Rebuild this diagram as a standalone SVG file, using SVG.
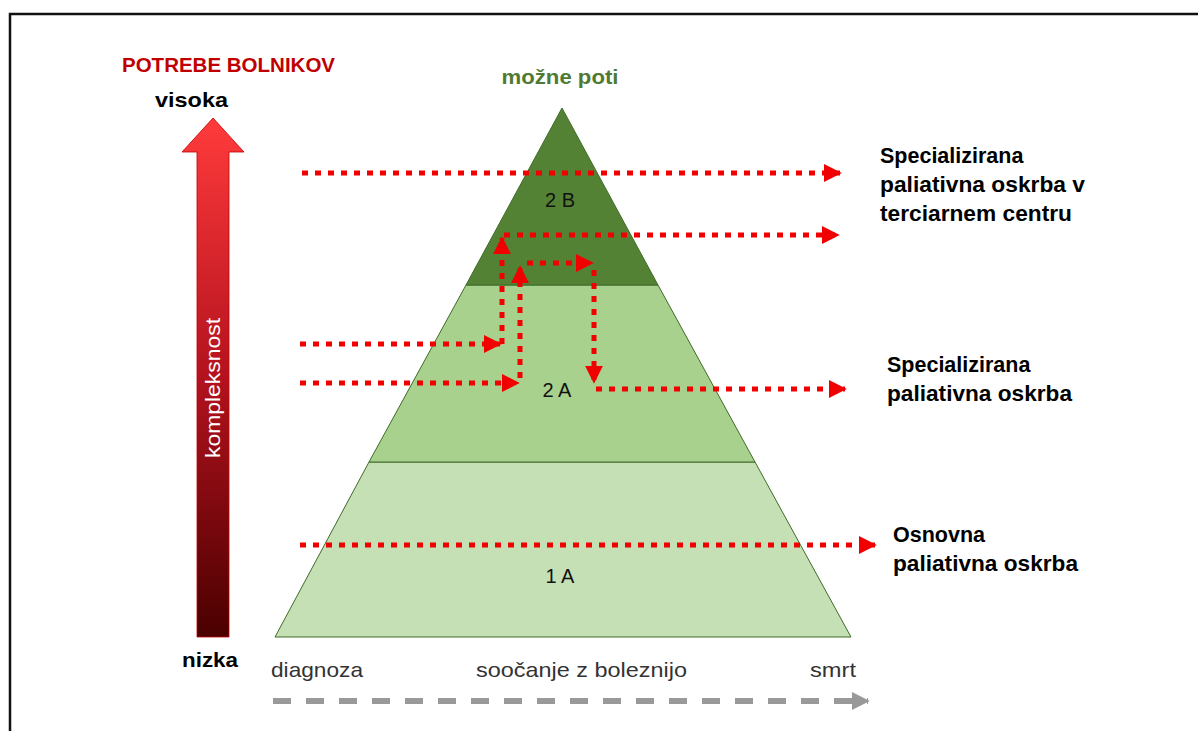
<svg xmlns="http://www.w3.org/2000/svg" width="1198" height="731" viewBox="0 0 1198 731">
<defs>
<style>
.t{font-family:"Liberation Sans",Arial,sans-serif;}
.b{font-weight:bold;}
.lbl{font-family:"Liberation Sans",Arial,sans-serif;font-weight:bold;font-size:21.5px;fill:#000;}
.lvl{font-family:"Liberation Sans",Arial,sans-serif;font-size:20px;fill:#111;}
.ax{font-family:"Liberation Sans",Arial,sans-serif;font-size:21px;fill:#333;}
.dot{fill:none;stroke:#F00000;stroke-width:5;stroke-dasharray:6 7;}
.edge{stroke:#3F6B27;stroke-width:1;}
</style>
<linearGradient id="grad" x1="0" y1="0" x2="0" y2="1">
<stop offset="0" stop-color="#FF3B3B"/>
<stop offset="0.5" stop-color="#B3121E"/>
<stop offset="1" stop-color="#4A0000"/>
</linearGradient>
<marker id="ah" viewBox="0 0 10 10" refX="9" refY="5" markerWidth="3.6" markerHeight="3.6" orient="auto" markerUnits="strokeWidth">
<path d="M0,0 L10,5 L0,10 z" fill="#F00000"/>
</marker>
<marker id="gh" viewBox="0 0 10 10" refX="9" refY="5" markerWidth="3" markerHeight="3.2" orient="auto" markerUnits="strokeWidth">
<path d="M0,0 L10,5 L0,10 z" fill="#999"/>
</marker>
</defs>
<rect width="1198" height="731" fill="#fff"/>
<path d="M10,731 V14 H1198" fill="none" stroke="#111" stroke-width="2.5"/>

<g id="pyramid">
<g id="level-1A">
<polygon points="369,462 755,462 851,637 275,637" fill="#C5E0B4" class="edge"/>
<text class="lvl" x="560" y="583" text-anchor="middle">1 A</text>
</g>
<g id="level-2A">
<polygon points="466,285 658,285 755,462 369,462" fill="#A9D18E" class="edge"/>
<text class="lvl" x="557" y="397" text-anchor="middle">2 A</text>
</g>
<g id="level-2B">
<polygon points="562,108 658,285 466,285" fill="#548235" class="edge"/>
<text class="lvl" x="560" y="207" text-anchor="middle">2 B</text>
</g>
</g>

<g id="axis-needs">
<text class="t b" x="122" y="72" font-size="20" fill="#C00000" textLength="213" lengthAdjust="spacingAndGlyphs">POTREBE BOLNIKOV</text>
<text class="t b" x="155" y="107" font-size="21" fill="#000" textLength="73" lengthAdjust="spacingAndGlyphs">visoka</text>
<text class="t b" x="182" y="667" font-size="21" fill="#000" textLength="56" lengthAdjust="spacingAndGlyphs">nizka</text>
<path d="M213,118 L244,152 L229,152 L229,637 L197,637 L197,152 L182,152 Z" fill="url(#grad)" stroke="#C00000" stroke-width="0.8"/>
<text class="t" x="220" y="388" font-size="21" fill="#fff" text-anchor="middle" transform="rotate(-90 220 388)" textLength="140" lengthAdjust="spacingAndGlyphs">kompleksnost</text>
</g>

<g id="title">
<text class="t b" x="560" y="84" font-size="21" fill="#4F7A33" text-anchor="middle" textLength="117" lengthAdjust="spacingAndGlyphs">možne poti</text>
</g>

<g id="label-tertiary">
<text class="lbl" x="880" y="163">Specializirana</text>
<text class="lbl" x="880" y="192" textLength="205" lengthAdjust="spacingAndGlyphs">paliativna oskrba v</text>
<text class="lbl" x="880" y="221" textLength="192" lengthAdjust="spacingAndGlyphs">terciarnem centru</text>
</g>
<g id="label-specialized">
<text class="lbl" x="887" y="372">Specializirana</text>
<text class="lbl" x="887" y="401" textLength="185" lengthAdjust="spacingAndGlyphs">paliativna oskrba</text>
</g>
<g id="label-basic">
<text class="lbl" x="893" y="542">Osnovna</text>
<text class="lbl" x="893" y="571" textLength="185" lengthAdjust="spacingAndGlyphs">paliativna oskrba</text>
</g>

<g id="timeline">
<text class="ax" x="271" y="677" textLength="92" lengthAdjust="spacingAndGlyphs">diagnoza</text>
<text class="ax" x="476" y="677" textLength="211" lengthAdjust="spacingAndGlyphs">soočanje z boleznijo</text>
<text class="ax" x="810" y="677" textLength="46" lengthAdjust="spacingAndGlyphs">smrt</text>
</g>

<g id="connectors">
<line class="dot" x1="302" y1="173" x2="840" y2="173" marker-end="url(#ah)"/>
<line class="dot" x1="300" y1="344" x2="500" y2="344" marker-end="url(#ah)"/>
<line class="dot" x1="502" y1="344" x2="502" y2="238" marker-end="url(#ah)"/>
<line class="dot" x1="504" y1="235" x2="838" y2="235" marker-end="url(#ah)"/>
<line class="dot" x1="300" y1="383" x2="518" y2="383" marker-end="url(#ah)"/>
<line class="dot" x1="520" y1="378" x2="520" y2="267" marker-end="url(#ah)"/>
<line class="dot" x1="527" y1="263" x2="592" y2="263" marker-end="url(#ah)"/>
<line class="dot" x1="594" y1="270" x2="594" y2="382" marker-end="url(#ah)"/>
<line class="dot" x1="596" y1="389" x2="845" y2="389" marker-end="url(#ah)"/>
<line class="dot" x1="300" y1="545" x2="875" y2="545" marker-end="url(#ah)"/>
<line x1="273" y1="701" x2="868" y2="701" stroke="#999" stroke-width="6" stroke-dasharray="18 15" marker-end="url(#gh)"/>
</g>
</svg>
